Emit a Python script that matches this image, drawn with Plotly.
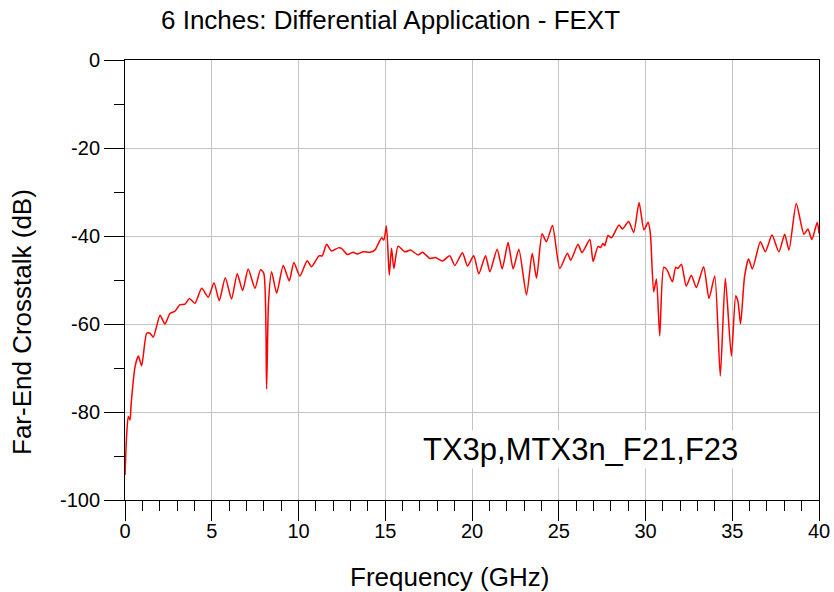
import plotly.graph_objects as go

# Frequency (GHz) and far-end crosstalk (dB)
freq = [0.0, 0.1, 0.19, 0.29, 0.35, 0.58, 0.77, 0.96, 1.25, 1.44, 1.63, 2.02, 2.30, 2.59, 2.88,
        3.17, 3.46, 3.71, 4.03, 4.42, 4.80, 5.13, 5.43, 5.78, 6.14, 6.47, 6.78, 7.10, 7.49,
        7.81, 8.0, 8.16, 8.27, 8.45, 8.74, 9.12, 9.47, 9.73, 10.08, 10.50, 10.75, 11.18, 11.37,
        11.62, 11.90, 12.29, 12.48, 12.81, 13.15, 13.38, 13.73, 14.11, 14.40, 14.79, 14.92,
        15.07, 15.23, 15.36, 15.50, 15.74, 16.13, 16.45, 16.90, 17.15, 17.57, 17.89, 18.30,
        18.72, 19.01, 19.45, 19.74, 20.10, 20.39, 20.78, 21.03, 21.45, 21.74, 22.08, 22.37,
        22.70, 23.14, 23.47, 23.72, 24.04, 24.29, 24.64, 25.06, 25.50, 25.69, 26.11, 26.34,
        26.79, 26.98, 27.26, 27.42, 27.55, 27.65, 27.84, 28.04, 28.47, 28.67, 29.03, 29.32,
        29.63, 29.91, 30.15, 30.28, 30.47, 30.63, 30.82, 31.05, 31.24, 31.55, 31.74, 31.87,
        32.07, 32.35, 32.64, 32.93, 33.35, 33.66, 33.99, 34.31, 34.60, 34.95, 35.20, 35.33,
        35.48, 35.71, 35.94, 36.16, 36.62, 36.91, 37.29, 37.69, 38.02, 38.27, 38.69, 39.13,
        39.36, 39.59, 39.90, 40.0]
xtalk = [-94.3, -84.8, -81.0, -81.8, -78.4, -69.7, -67.3, -69.5, -62.1, -62.1, -63.0, -58.0,
         -60.0, -57.6, -57.1, -55.6, -55.5, -54.2, -55.3, -51.9, -53.9, -50.6, -54.7, -49.5,
         -54.3, -48.6, -52.4, -47.5, -51.9, -47.7, -48.5, -74.8, -55.2, -48.1, -53.0, -46.7,
         -50.2, -46.0, -49.1, -45.6, -47.0, -44.5, -44.5, -41.9, -43.4, -42.7, -42.8, -44.2,
         -43.7, -44.1, -43.6, -43.7, -43.2, -40.4, -40.9, -37.7, -48.9, -42.8, -47.4, -42.3,
         -43.6, -43.2, -44.3, -43.7, -45.1, -44.9, -45.7, -44.5, -46.7, -43.8, -46.8, -44.5,
         -48.6, -44.5, -48.1, -43.0, -47.5, -41.5, -47.5, -43.0, -53.4, -43.9, -49.6, -39.5,
         -41.3, -37.6, -47.4, -43.9, -45.5, -41.9, -43.8, -40.8, -45.8, -42.4, -42.6, -41.7,
         -42.2, -39.9, -40.4, -37.5, -38.4, -36.7, -39.2, -32.4, -38.6, -36.9, -39.4, -52.7,
         -49.8, -62.7, -47.1, -47.7, -50.4, -47.1, -47.4, -46.4, -51.4, -48.9, -51.7, -47.0,
         -54.2, -49.1, -71.8, -49.6, -67.3, -53.6, -54.9, -60.0, -49.2, -45.2, -47.5, -41.3,
         -43.6, -39.8, -43.6, -39.6, -43.2, -32.6, -39.6, -38.4, -40.8, -36.9, -39.4]

x_ticks = [0, 5, 10, 15, 20, 25, 30, 35, 40]
x_tick_labels = ["0", "5", "10", "15", "20", "25", "30", "35", "40"]
y_ticks = [0, -20, -40, -60, -80, -100]
y_tick_labels = ["0", "-20", "-40", "-60", "-80", "-100"]

title_text = "6 Inches: Differential Application - FEXT"
x_title = "Frequency (GHz)"
y_title = "Far-End Crosstalk (dB)"
trace_label = "TX3p,MTX3n_F21,F23"

FONT = "Liberation Sans, Arial, sans-serif"
PW, PH = 694, 440  # plot-area size in px

fig = go.Figure()
fig.add_trace(go.Scatter(x=freq, y=xtalk, mode="lines",
                         line=dict(color="#ff0000", width=1.5, shape="spline", smoothing=0.6),
                         showlegend=False, hoverinfo="skip"))

axis_common = dict(
    showline=True, linecolor="black", linewidth=1, mirror=True, automargin=False,
    ticks="outside", ticklen=20, tickwidth=1, tickcolor="black",
    showgrid=True, gridcolor="#c4c4c4", gridwidth=1, zeroline=False,
    tickfont=dict(family=FONT, size=20, color="black"),
)

fig.update_xaxes(range=[0, 40], tickvals=x_ticks, ticktext=x_tick_labels, ticklabelstandoff=-7,
                 minor=dict(dtick=1, tick0=0, ticklen=10, tickcolor="black", ticks="outside", showgrid=False),
                 **axis_common)
fig.update_yaxes(range=[-100, 0], tickvals=y_ticks, ticktext=y_tick_labels,
                 minor=dict(dtick=10, tick0=0, ticklen=10, tickcolor="black", ticks="outside", showgrid=False),
                 **axis_common)

fig.update_layout(
    width=834, height=592,
    margin=dict(l=125, r=15, t=60, b=92, autoexpand=False),
    plot_bgcolor="white", paper_bgcolor="white",
    font=dict(family=FONT, color="black"),
    hovermode=False,
    annotations=[
        dict(text=title_text, xref="paper", yref="paper", x=(159-125)/PW, y=1 + 40/PH,
             xanchor="left", yanchor="middle", showarrow=False,
             font=dict(family=FONT, size=26, color="black")),
        dict(text=x_title, xref="paper", yref="paper", x=(449-125)/PW, y=-(577-500)/PH,
             xanchor="center", yanchor="middle", showarrow=False,
             font=dict(family=FONT, size=26, color="black")),
        dict(text=y_title, xref="paper", yref="paper", x=-(125-22)/PW, y=(500-322)/PH,
             xanchor="center", yanchor="middle", showarrow=False, textangle=-90,
             font=dict(family=FONT, size=26, color="black")),
        dict(text=trace_label, xref="paper", yref="paper", x=(580-125)/PW, y=(500-449)/PH,
             xanchor="center", yanchor="middle", showarrow=False, bgcolor="white",
             font=dict(family=FONT, size=31, color="black")),
    ],
)

fig.write_html("out.html", config={"displayModeBar": False, "staticPlot": True},
               post_script="document.body.style.margin='0';")
